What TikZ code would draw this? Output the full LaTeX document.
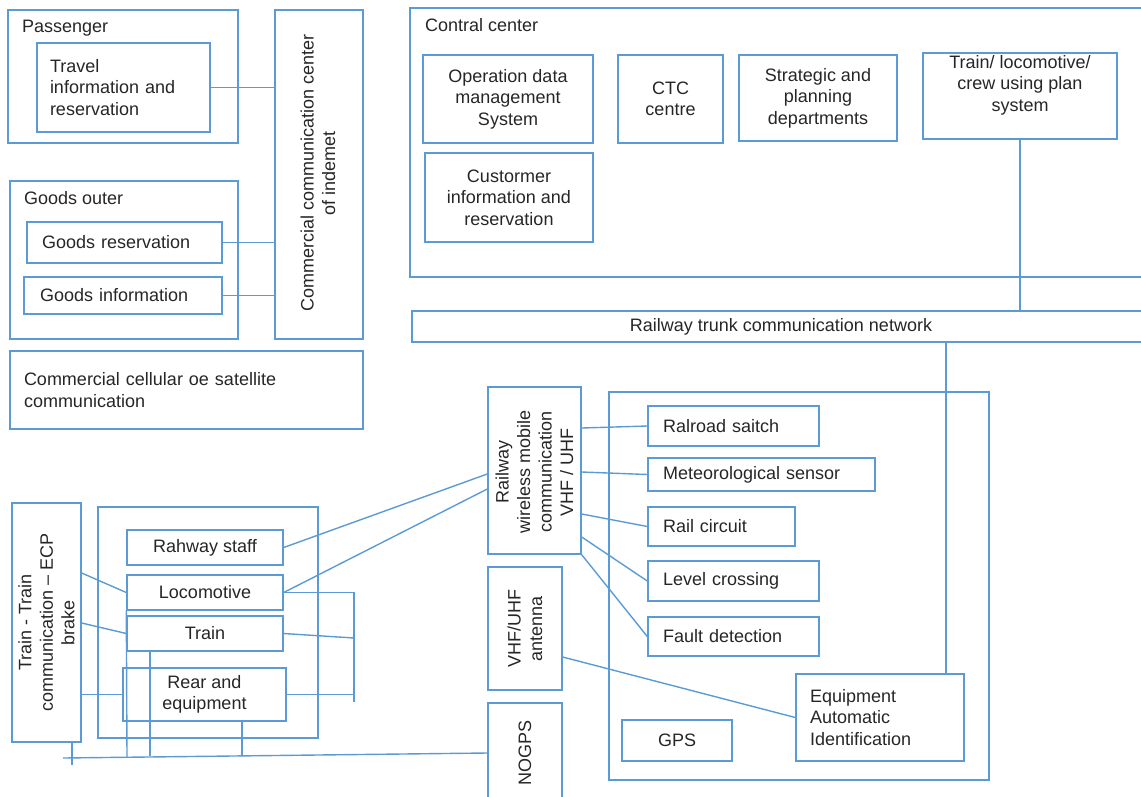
\documentclass[tikz,border=0pt]{standalone}
\usepackage{fontspec}
\setmainfont{Liberation Sans}
\definecolor{lineblue}{HTML}{5B9BD5}
\definecolor{inkgray}{HTML}{262626}

\begin{document}
\begin{tikzpicture}[x=1pt,y=-1pt,
  box/.style={draw=lineblue,line width=1.4pt,inner sep=0pt},
  txt/.style={text=inkgray,font=\fontsize{18}{21.5}\selectfont,inner sep=0pt},
  wire/.style={draw=lineblue,line width=1.4pt}]
\useasboundingbox (0,0) rectangle (1141,796);

% left side: passenger and goods
\node[box,minimum width=230,minimum height=133] (passenger) at (123,76.5) {};
\node[txt,anchor=west] (passtitle) at (22,28) {Passenger};
\node[box,txt,minimum width=173,minimum height=89,text width=147,align=left] (travel) at (123.5,87.5) {Travel\\information and\\reservation};
\node[box,minimum width=88,minimum height=329] (commcenter) at (319,174.5) {};
\node[txt,rotate=90,align=center] (commtext) at (318,173) {Commercial communication center\\of indemet};
\node[box,minimum width=228,minimum height=158] (goodsouter) at (124,260) {};
\node[txt,anchor=west] (goodstitle) at (24,198) {Goods outer};
\node[box,txt,minimum width=195,minimum height=41,text width=165,align=left] (goodsres) at (124.5,242.5) {Goods reservation};
\node[box,txt,minimum width=198,minimum height=37,text width=166,align=left] (goodsinfo) at (123,295.5) {Goods information};
\node[box,txt,minimum width=353,minimum height=78,text width=325,align=left] (cellular) at (186.5,390) {Commercial cellular oe satellite\\communication};

% control center
\node[box,minimum width=750,minimum height=269] (contral) at (785,142.5) {};
\node[txt,anchor=west] (contraltitle) at (425,25) {Contral center};
\node[box,txt,minimum width=170,minimum height=88,align=center] (opdata) at (508,99) {Operation data\\management\\System};
\node[box,txt,minimum width=105,minimum height=88,align=center] (ctc) at (670.5,99) {CTC\\centre};
\node[box,txt,minimum width=158,minimum height=86,align=center] (strategic) at (818,98) {Strategic and\\planning\\departments};
\node[box,minimum width=194,minimum height=86] (crewplan) at (1020,96) {};
\node[txt,align=center] (crewtext) at (1020,85) {Train/ locomotive/\\crew using plan\\system};
\node[box,txt,minimum width=168,minimum height=89,align=center] (customer) at (509,197.5) {Custormer\\information and\\reservation};
\node[box,txt,minimum width=738,minimum height=31] (trunk) at (781,326.5) {Railway trunk communication network};

% wayside
\node[box,minimum width=93,minimum height=167] (wireless) at (534.5,470.5) {};
\node[txt,rotate=90,align=center] (wiretext) at (534.5,472) {Railway\\wireless mobile\\communication\\VHF / UHF};
\node[box,minimum width=380,minimum height=388] (wayside) at (799,586) {};
\node[box,txt,minimum width=171,minimum height=40,text width=141,align=left] (switch) at (733.5,426) {Ralroad saitch};
\node[box,txt,minimum width=227,minimum height=33,text width=197,align=left] (meteo) at (761.5,474.5) {Meteorological sensor};
\node[box,txt,minimum width=147,minimum height=39,text width=117,align=left] (railcirc) at (721.5,526.5) {Rail circuit};
\node[box,txt,minimum width=171,minimum height=40,text width=141,align=left] (levelx) at (733.5,581) {Level crossing};
\node[box,txt,minimum width=171,minimum height=39,text width=141,align=left] (fault) at (733.5,636.5) {Fault detection};
\node[box,txt,minimum width=168,minimum height=87,text width=140,align=left] (aei) at (880,717.5) {Equipment\\Automatic\\Identification};
\node[box,txt,minimum width=110,minimum height=41] (gps) at (677,740.5) {GPS};
\node[box,minimum width=74,minimum height=123] (antenna) at (525,628.5) {};
\node[txt,rotate=90,align=center] (antext) at (525,628.5) {VHF/UHF\\antenna};
\node[box,minimum width=74,minimum height=100] (nogps) at (525,753) {};
\node[txt,rotate=90] (nogpstext) at (525,753) {NOGPS};

% on board
\node[box,minimum width=69,minimum height=239] (ecp) at (46.5,622.5) {};
\node[txt,rotate=90,align=center] (ecptext) at (46.5,622.5) {Train - Train\\communication -- ECP\\brake};
\node[box,minimum width=220,minimum height=231] (onboard) at (208,622.5) {};
\node[box,txt,minimum width=156,minimum height=35] (staff) at (205,547.5) {Rahway staff};
\node[box,txt,minimum width=156,minimum height=35] (loco) at (205,592.5) {Locomotive};
\node[box,txt,minimum width=156,minimum height=35] (train) at (205,633.5) {Train};
\node[box,txt,minimum width=163,minimum height=53,align=center] (rear) at (204.5,694.5) {Rear and\\equipment};

\coordinate (rbus) at (354,702);
\coordinate (lbus) at (63,758);
\coordinate (etick) at (72,765);
\coordinate (lobus) at (127,757);
\coordinate (tbus) at (150,756);
\coordinate (rrbus) at (242,755);

% links
\draw[wire] (travel.east) -- (travel.east -| commcenter.west);
\draw[wire] (goodsres.east) -- (goodsres.east -| commcenter.west);
\draw[wire] (goodsinfo.east) -- (goodsinfo.east -| commcenter.west);
\draw[wire] (crewplan.south) -- (crewplan.south |- trunk.north);
\draw[wire] (trunk.south -| 946,0) -- (aei.north -| 946,0);
\draw[wire] (wireless.east |- 0,428) -- (switch.west);
\draw[wire] (wireless.east |- 0,472) -- (meteo.west);
\draw[wire] (wireless.east |- 0,514) -- (railcirc.west);
\draw[wire] (wireless.east |- 0,537) -- (levelx.west);
\draw[wire] (wireless.south east) -- (fault.west);
\draw[wire] (antenna.east |- 0,657) -- (aei.west);
\draw[wire] (staff.east) -- (wireless.west |- 0,474);
\draw[wire] (loco.east) -- (wireless.west |- 0,489);
\draw[wire] (ecp.east |- 0,573) -- (loco.west);
\draw[wire] (ecp.east |- 0,623) -- (train.west);
\draw[wire] (ecp.east |- rear.west) -- (rear.west);
\draw[wire] (loco.east) -| (rbus);
\draw[wire] (train.east) -- (rbus |- 0,638);
\draw[wire] (rear.east) -- (rear.east -| rbus);
\draw[wire] (lbus) -- (nogps.west);
\draw[wire] (ecp.south -| etick) -- (etick);
\draw[wire] (loco.south west) -- (lobus);
\draw[wire] (train.south -| tbus) -- (tbus);
\draw[wire] (rear.south -| rrbus) -- (rrbus);
\end{tikzpicture}
\end{document}
